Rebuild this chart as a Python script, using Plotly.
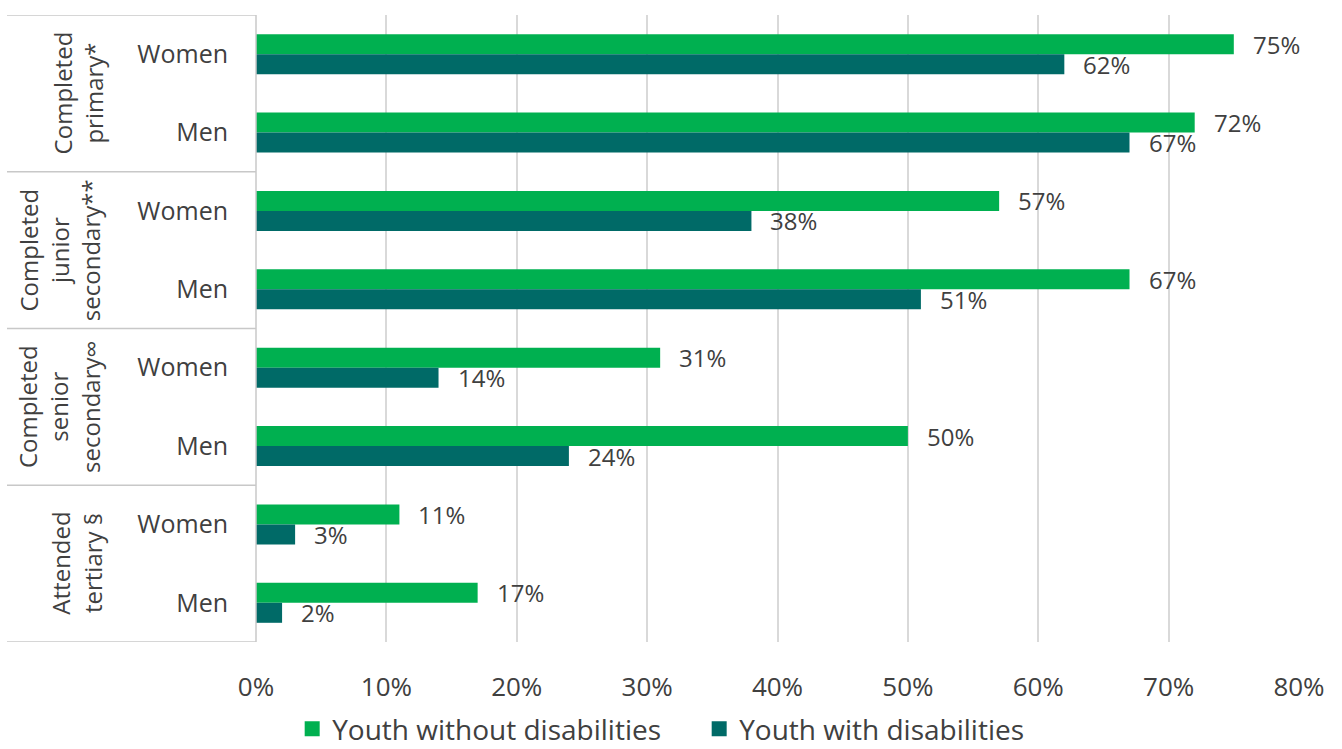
import plotly.graph_objects as go

rows = ["Women", "Men", "Women", "Men", "Women", "Men", "Women", "Men"]
groups = ["Completed<br>primary*", "Completed<br>junior<br>secondary**",
          "Completed<br>senior<br>secondary∞", "Attended<br>tertiary §"]
series_names = ["Youth without disabilities", "Youth with disabilities"]
without_dis = [75, 72, 57, 67, 31, 50, 11, 17]
with_dis = [62, 67, 38, 51, 14, 24, 3, 2]
x_ticks = [0, 10, 20, 30, 40, 50, 60, 70, 80]

GREEN = "#00B050"
TEAL = "#006A67"
TXT = "#404040"
FONT = "Open Sans"

ypos = list(range(len(rows)))
bw = 0.255

fig = go.Figure()
fig.add_trace(go.Bar(y=ypos, x=without_dis, orientation="h", name=series_names[0], showlegend=False,
                     marker=dict(color=GREEN, line=dict(width=0)), width=bw, offset=-bw))
fig.add_trace(go.Bar(y=ypos, x=with_dis, orientation="h", name=series_names[1], showlegend=False,
                     marker=dict(color=TEAL, line=dict(width=0)), width=bw, offset=0))
# legend entries with larger square swatches
for nm, col in zip(series_names, [GREEN, TEAL]):
    fig.add_trace(go.Scatter(x=[None], y=[None], mode="markers", name=nm,
                             marker=dict(symbol="square", size=15, color=col)))

ann = []
for i, v in enumerate(without_dis):
    ann.append(dict(x=v, y=i - bw / 2, xref="x", yref="y", text=f"{v}%", showarrow=False,
                    xanchor="left", yanchor="middle", xshift=17,
                    font=dict(family=FONT, size=24, color=TXT)))
for i, v in enumerate(with_dis):
    ann.append(dict(x=v, y=i + bw / 2, xref="x", yref="y", text=f"{v}%", showarrow=False,
                    xanchor="left", yanchor="middle", xshift=17,
                    font=dict(family=FONT, size=24, color=TXT)))

# group labels (rotated)
W = 1342
L = 256
R = 1299
pw = R - L
ph = 642 - 15
centers_px = [78, 59, 59, 76]
for g, label in enumerate(groups):
    ann.append(dict(x=(centers_px[g] - L) / pw, xref="paper", y=2 * g + 0.5, yref="y",
                    text=label, textangle=-90, showarrow=False, xanchor="center", yanchor="middle",
                    font=dict(family=FONT, size=24, color=TXT), align="center"))

shapes = []
LINE = "#c8c8c8"
for b in [-0.5, 1.5, 3.5, 5.5, 7.5]:
    shapes.append(dict(type="line", xref="paper", yref="y", x0=(7 - L) / pw, x1=0, y0=b, y1=b,
                       line=dict(color=LINE, width=1.5)))
shapes.append(dict(type="line", xref="paper", yref="y", x0=0, x1=0, y0=-0.5, y1=7.5,
                   line=dict(color=LINE, width=1.5)))

fig.update_layout(
    width=1342, height=749,
    margin=dict(l=L, r=W - R, t=15, b=749 - 642, autoexpand=False),
    plot_bgcolor="white", paper_bgcolor="white",
    barmode="overlay",
    font=dict(family=FONT, size=24, color=TXT),
    xaxis=dict(range=[0, 80], tickvals=x_ticks, ticktext=[f"{t}%" for t in x_ticks],
               showgrid=True, gridcolor="#d9d9d9", gridwidth=1.5, zeroline=False, showline=False,
               ticks="outside", ticklen=22, tickcolor="rgba(0,0,0,0)", automargin=False,
               tickfont=dict(family=FONT, size=26, color=TXT)),
    yaxis=dict(range=[7.5, -0.5], tickvals=ypos, ticktext=rows, showgrid=False, zeroline=False,
               showline=False, ticks="outside", ticklen=22, tickcolor="rgba(0,0,0,0)", automargin=False,
               tickfont=dict(family=FONT, size=25, color=TXT)),
    legend=dict(orientation="h", xref="container", yref="paper", x=0.521, xanchor="center",
                y=(642 - 729) / ph, yanchor="middle", font=dict(family=FONT, size=28, color=TXT),
                itemwidth=30, traceorder="normal", entrywidth=362, itemsizing="trace"),
    annotations=ann,
    shapes=shapes,
    showlegend=True,
)

fig.write_html("out.html", config={"displayModeBar": False},
               post_script="document.body.style.margin='0';document.body.style.overflow='hidden';")
